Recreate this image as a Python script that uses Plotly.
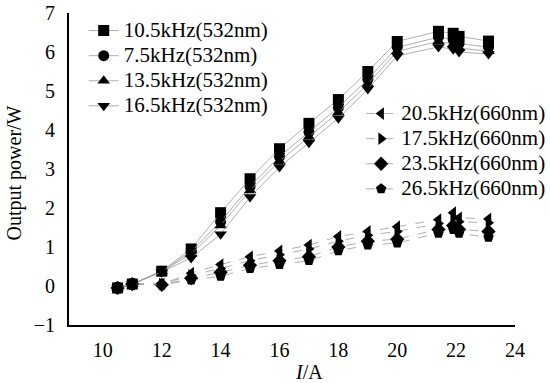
import plotly.graph_objects as go

current_A = [10.5, 11, 12, 13, 14, 15, 16, 17, 18, 19, 20, 21.4, 21.9, 22.1, 23.1]

names_532 = ["10.5kHz(532nm)", "7.5kHz(532nm)", "13.5kHz(532nm)", "16.5kHz(532nm)"]
p_10_5 = [-0.05, 0.05, 0.38, 0.95, 1.88, 2.75, 3.52, 4.17, 4.78, 5.50, 6.27, 6.53, 6.48, 6.40, 6.28]
p_7_5 = [-0.05, 0.05, 0.38, 0.88, 1.65, 2.55, 3.32, 3.95, 4.58, 5.30, 6.12, 6.38, 6.32, 6.22, 6.12]
p_13_5 = [-0.05, 0.05, 0.37, 0.82, 1.55, 2.45, 3.20, 3.82, 4.45, 5.18, 6.02, 6.27, 6.20, 6.10, 6.02]
p_16_5 = [-0.05, 0.05, 0.36, 0.72, 1.33, 2.28, 3.05, 3.67, 4.30, 5.05, 5.90, 6.13, 6.07, 6.00, 5.95]

names_660 = ["20.5kHz(660nm)", "17.5kHz(660nm)", "23.5kHz(660nm)", "26.5kHz(660nm)"]
p_20_5 = [-0.05, 0.05, 0.05, 0.33, 0.55, 0.75, 0.90, 1.05, 1.27, 1.40, 1.52, 1.70, 1.88, 1.75, 1.72]
p_17_5 = [-0.05, 0.05, 0.05, 0.27, 0.45, 0.65, 0.80, 0.95, 1.15, 1.30, 1.40, 1.60, 1.75, 1.65, 1.62]
p_23_5 = [-0.05, 0.05, 0.03, 0.20, 0.35, 0.53, 0.65, 0.75, 1.00, 1.15, 1.20, 1.45, 1.55, 1.45, 1.40]
p_26_5 = [-0.05, 0.05, 0.03, 0.15, 0.25, 0.45, 0.55, 0.65, 0.90, 1.05, 1.10, 1.35, 1.45, 1.35, 1.25]

series_532 = [p_10_5, p_7_5, p_13_5, p_16_5]
series_660 = [p_20_5, p_17_5, p_23_5, p_26_5]
sym_532 = ["square", "circle", "triangle-up", "triangle-down"]
sym_660 = ["triangle-left", "triangle-right", "diamond", "pentagon"]

FONT = "Liberation Serif"
fig = go.Figure()


def label(n):
    # legend rows are spaced for a 17px font while the text itself is drawn larger
    return '<span style="font-size:21px">' + n + "</span>"


for name, ys, sym in zip(names_532, series_532, sym_532):
    fig.add_trace(go.Scatter(
        x=current_A, y=ys, name=label(name), mode="lines+markers",
        line=dict(color="#9a9a9a", width=0.8),
        marker=dict(symbol=sym, size=11, color="black"),
        legend="legend",
    ))
for name, ys, sym in zip(names_660, series_660, sym_660):
    fig.add_trace(go.Scatter(
        x=current_A, y=ys, name=label(name), mode="lines+markers",
        line=dict(color="#9a9a9a", width=0.8, dash="dash"),
        marker=dict(symbol=sym, size=11, color="black"),
        legend="legend2",
    ))

fig.update_layout(
    width=550, height=383,
    margin=dict(l=69, r=35, t=13, b=58, autoexpand=False),
    paper_bgcolor="white", plot_bgcolor="white",
    font=dict(family=FONT, size=20, color="black"),
    legend=dict(x=0.033, y=1.0, xanchor="left", yanchor="top",
                bgcolor="rgba(0,0,0,0)", font=dict(family=FONT, size=17), tracegroupgap=0,
                itemwidth=30),
    legend2=dict(x=0.655, y=0.734, xanchor="left", yanchor="top",
                 bgcolor="rgba(0,0,0,0)", font=dict(family=FONT, size=17), tracegroupgap=0,
                 itemwidth=30),
    xaxis=dict(range=[8.85, 24], tickvals=[10, 12, 14, 16, 18, 20, 22, 24],
               showgrid=False, zeroline=False, showline=True, linecolor="black",
               linewidth=2, ticks="", ticklabelstandoff=6,
               tickfont=dict(family=FONT, size=20)),
    yaxis=dict(range=[-1, 7], dtick=1, showgrid=False, zeroline=False,
               showline=True, linecolor="black", linewidth=2, ticks="",
               ticklabelstandoff=8, tickfont=dict(family=FONT, size=20)),
    annotations=[
        dict(text="<i>I</i>/A", x=17.0, xref="x", y=-0.152, yref="paper",
             showarrow=False, font=dict(family=FONT, size=20),
             xanchor="center", yanchor="middle"),
        dict(text="Output power/W", x=-0.122, xref="paper", y=2.9, yref="y",
             textangle=-90, showarrow=False, font=dict(family=FONT, size=20),
             xanchor="center", yanchor="middle"),
    ],
)

fig.write_html("out.html", config={"displayModeBar": False},
               post_script="document.body.style.margin='0px';")
